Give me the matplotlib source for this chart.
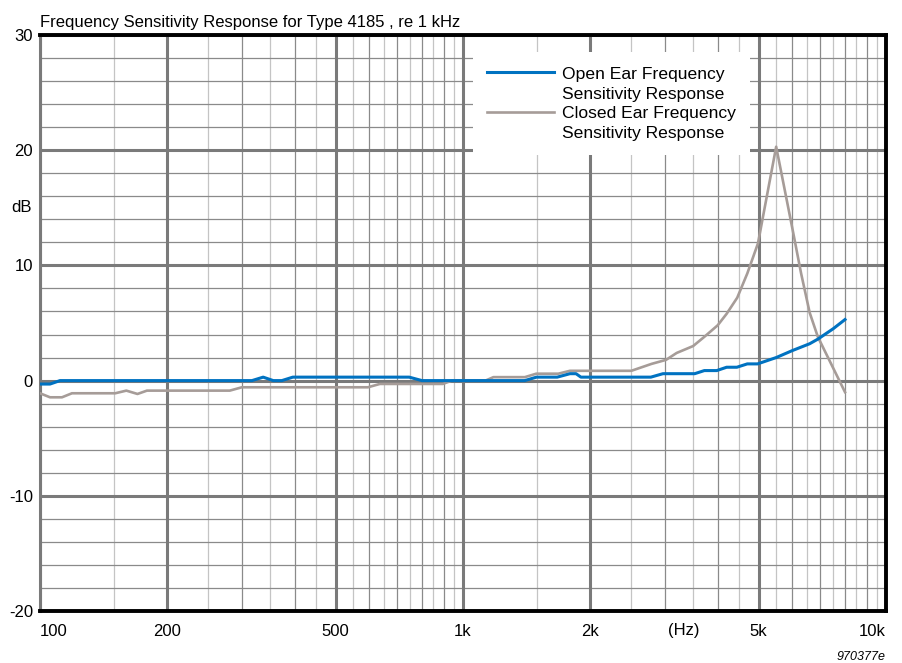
import numpy as np
import matplotlib
matplotlib.use('Agg')
from matplotlib import pyplot as plt
from matplotlib.lines import Line2D

plt.rcParams['font.family'] = ['Liberation Sans', 'DejaVu Sans']
plt.rcParams['axes.unicode_minus'] = False

# Open ear response (Hz, dB)
open_f = [100, 105.6, 111.5, 317, 337, 356, 373, 396, 746, 800, 1399, 1492, 1670,
          1790, 1850, 1900, 2780, 2970, 3530, 3720, 3980, 4200, 4440, 4700, 4970,
          5500, 6000, 6600, 6900, 7500, 8000]
open_db = [-0.3, -0.3, 0, 0, 0.3, 0, 0, 0.3, 0.3, 0, 0, 0.3, 0.3,
           0.6, 0.6, 0.3, 0.3, 0.6, 0.6, 0.87, 0.87, 1.16, 1.16, 1.45, 1.45,
           2.0, 2.6, 3.2, 3.6, 4.5, 5.3]

# Closed ear response (Hz, dB)
closed_f = [100, 105.6, 112.7, 119, 150.6, 160, 170, 179, 281, 300, 596, 636, 896,
            941, 1130, 1180, 1400, 1490, 1680, 1790, 2500, 2790, 3020, 3200, 3500,
            3720, 4000, 4200, 4450, 4700, 4980, 5500, 6000, 6300, 6600, 6900, 8000]
closed_db = [-1.1, -1.45, -1.45, -1.1, -1.1, -0.87, -1.16, -0.87, -0.87, -0.58, -0.58, -0.29, -0.29,
             0, 0, 0.3, 0.3, 0.6, 0.6, 0.85, 0.85, 1.45, 1.8, 2.4, 3.0,
             3.8, 4.8, 5.8, 7.2, 9.3, 11.9, 20.3, 13.3, 9.3, 5.9, 3.8, -1.0]

xticks = [100, 200, 500, 1000, 2000, 5000, 10000]
xticklabels = ['100', '200', '500', '1k', '2k', '5k', '10k']
yticks = [-20, -10, 0, 10, 20, 30]

fig = plt.figure(figsize=(9.03, 6.63), dpi=100)
ax = fig.add_axes([40/903, 1-611/663, 846/903, 576/663])
ax.set_xscale('log')
ax.set_xlim(100, 10000)
ax.set_ylim(-20, 30)

#-----------------------------
# grille
dark = '#8a8a8a'
light = '#c4c4c4'
for dec in [100, 1000]:
    for f in np.arange(dec, 10*dec, dec/2):
        if f in xticks:
            continue
        col = dark if f % dec == 0 else light
        ax.axvline(f, color=col, lw=0.9, zorder=1)
for y in np.arange(-20, 30, 2):
    if y % 10 != 0:
        ax.axhline(y, color=dark, lw=0.9, zorder=1)
for f in xticks:
    ax.axvline(f, color='#7a7a7a', lw=2.2, zorder=1.5)
for y in yticks:
    ax.axhline(y, color='#7a7a7a', lw=2.2, zorder=1.5)

#-----------------------------
# courbes
ax.plot(closed_f, closed_db, color='#a69c98', lw=1.9, zorder=3)
ax.plot(open_f, open_db, color='#0072c1', lw=2.2, zorder=3)

for s in ['top', 'bottom', 'right']:
    ax.spines[s].set_color('black')
    ax.spines[s].set_linewidth(2.8)
ax.spines['left'].set_color('#7a7a7a')
ax.spines['left'].set_linewidth(2.2)

ax.set_xticks(xticks)
ax.set_xticklabels(xticklabels)
ax.set_xticks([], minor=True)
ax.set_yticks(yticks)
ax.tick_params(length=0, labelsize=12)
ax.tick_params(axis='x', pad=9)
ax.tick_params(axis='y', pad=5)
lbls = ax.get_xticklabels()
lbls[0].set_ha('left')
lbls[-1].set_ha('right')

ax.set_title('Frequency Sensitivity Response for Type 4185 , re 1 kHz',
             loc='left', fontsize=12, pad=6)

#-----------------------------
# legende
h = [Line2D([], [], color='#0072c1', lw=2.2),
     Line2D([], [], color='none'),
     Line2D([], [], color='#a69c98', lw=1.9),
     Line2D([], [], color='none')]
t = ['Open Ear Frequency', 'Sensitivity Response',
     'Closed Ear Frequency', 'Sensitivity Response']
leg = ax.legend(h, t, loc='upper left', bbox_to_anchor=(0.512, 0.970),
                fontsize=12.6, frameon=True, fancybox=False, framealpha=1,
                edgecolor='none', handlelength=3.8, handletextpad=0.5,
                labelspacing=0.27, borderpad=0.8, borderaxespad=0)
leg.set_zorder(5)

fig.text(22/903, 1-207/663, 'dB', fontsize=12, ha='center', va='center')
fig.text(684/903, 1-630/663, '(Hz)', fontsize=12, ha='center', va='center')
fig.text(886/903, 1-657/663, '970377e', fontsize=9, style='italic',
         ha='right', va='center')

plt.savefig('out.png', dpi=100)
